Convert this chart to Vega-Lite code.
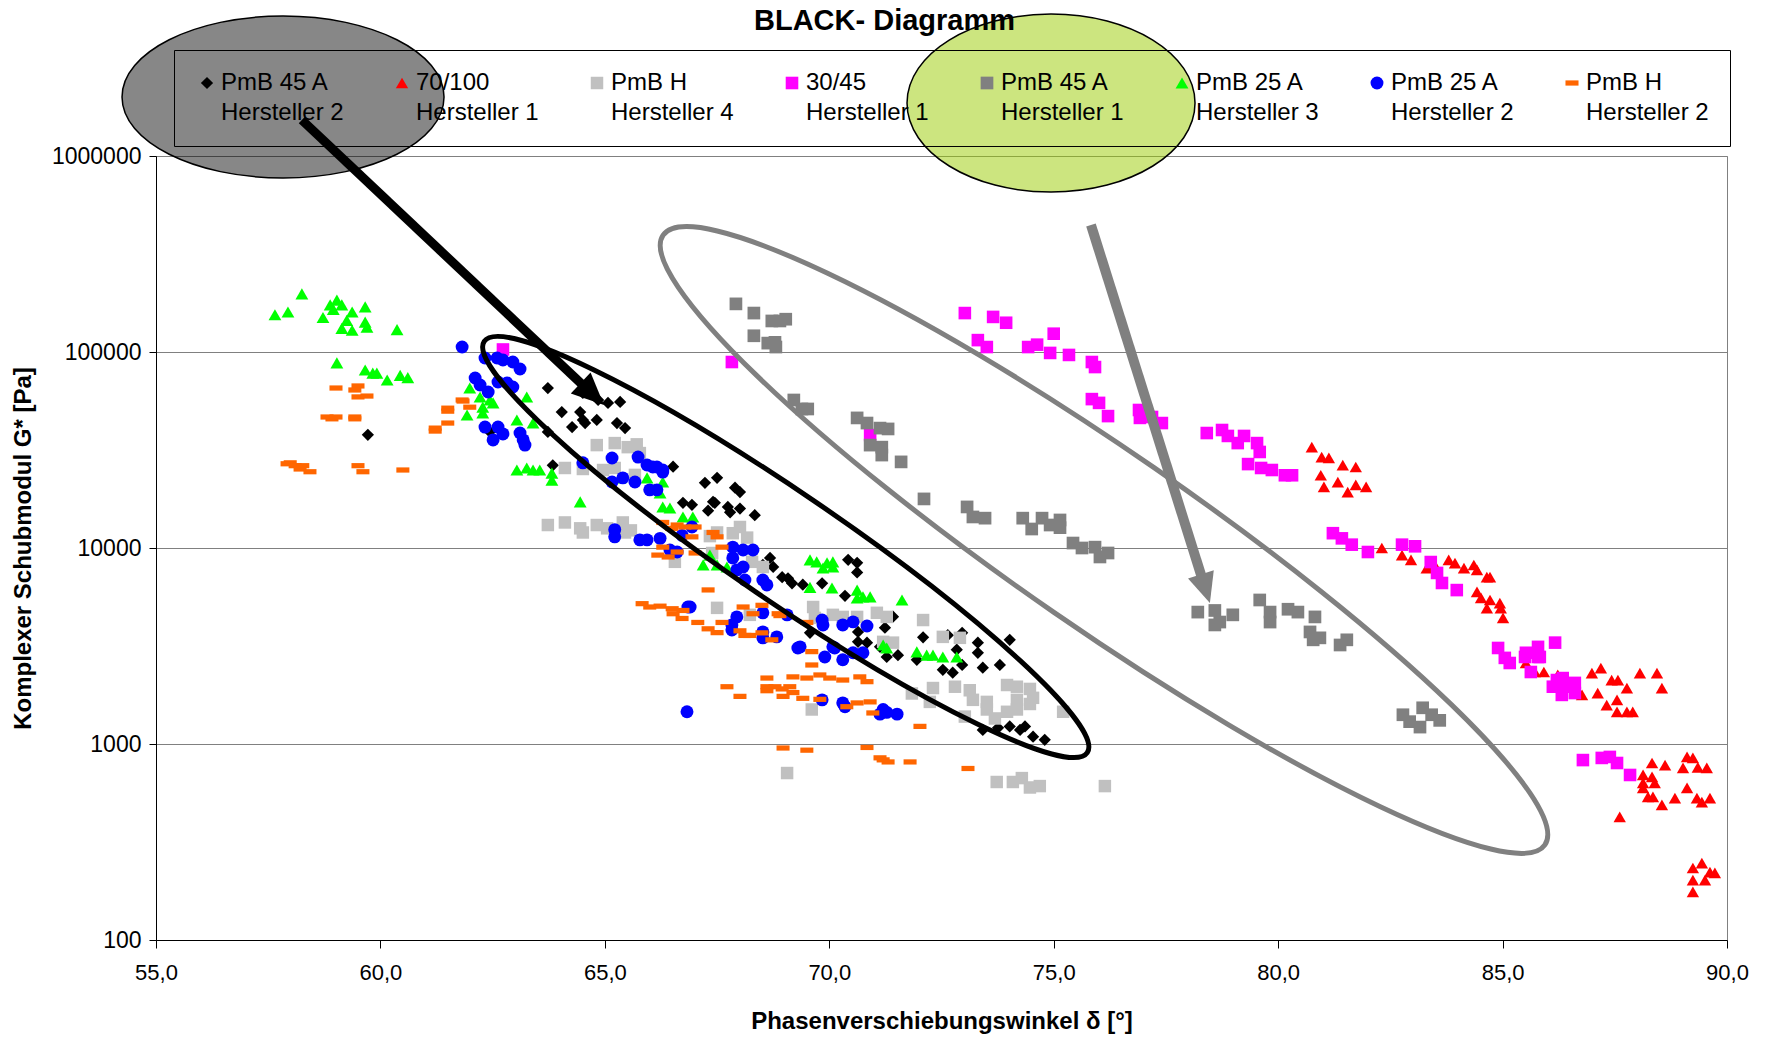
{
"$schema":"https://vega.github.io/schema/vega-lite/v6.json",
"width":1571,"height":784,
"autosize":"none",
"padding":{"left":156,"top":156,"right":41,"bottom":98},
"background":"white",
"title":{"text":"BLACK- Diagramm","anchor":"middle","frame":"group","fontSize":29,"fontWeight":"bold","color":"black","dx":-57,"offset":-25},
"config":{"font":"Liberation Sans","view":{"stroke":"#808080","strokeWidth":1},"style":{"guide-label":{"lineHeight":30}}},
"layer":[
{"data":{"values":[
{"s":"a","x":59.72,"y":37800},{"s":"a","x":62.44,"y":39100},{"s":"a","x":63.73,"y":65500},{"s":"a","x":64.04,"y":49400},{"s":"a","x":64.27,"y":41400},{"s":"a","x":64.45,"y":49400},{"s":"a","x":64.51,"y":45000},{"s":"a","x":64.56,"y":43400},{"s":"a","x":64.82,"y":45000},{"s":"a","x":64.51,"y":61800},{"s":"a","x":64.67,"y":62500},{"s":"a","x":64.85,"y":56900},{"s":"a","x":65.07,"y":55000},{"s":"a","x":65.34,"y":55600},{"s":"a","x":65.27,"y":43400},{"s":"a","x":65.45,"y":40900},{"s":"a","x":63.73,"y":39100},{"s":"a","x":63.84,"y":26400},{"s":"a","x":64.51,"y":26400},{"s":"a","x":66.52,"y":26000},{"s":"a","x":66.74,"y":17000},{"s":"a","x":66.94,"y":16600},{"s":"a","x":67.45,"y":17000},{"s":"a","x":67.23,"y":21500},{"s":"a","x":67.5,"y":22800},{"s":"a","x":67.41,"y":17200},{"s":"a","x":67.3,"y":15500},{"s":"a","x":67.74,"y":16200},{"s":"a","x":68.01,"y":15900},{"s":"a","x":67.9,"y":20300},{"s":"a","x":68.01,"y":19300},{"s":"a","x":67.79,"y":15200},{"s":"a","x":68.34,"y":14700},{"s":"a","x":68.68,"y":8900},{"s":"a","x":68.52,"y":8200},{"s":"a","x":68.75,"y":8000},{"s":"a","x":68.95,"y":7100},{"s":"a","x":69.08,"y":7000},{"s":"a","x":69.17,"y":6600},{"s":"a","x":69.41,"y":6500},{"s":"a","x":69.84,"y":6600},{"s":"a","x":70.35,"y":5700},{"s":"a","x":70.42,"y":8700},{"s":"a","x":70.62,"y":8400},{"s":"a","x":70.62,"y":7500},{"s":"a","x":69.57,"y":3690},{"s":"a","x":70.64,"y":3730},{"s":"a","x":70.64,"y":3320},{"s":"a","x":70.84,"y":3290},{"s":"a","x":71.24,"y":3920},{"s":"a","x":71.42,"y":4460},{"s":"a","x":71.13,"y":3130},{"s":"a","x":71.28,"y":2780},{"s":"a","x":71.53,"y":2840},{"s":"a","x":71.95,"y":2690},{"s":"a","x":72.09,"y":3500},{"s":"a","x":72.64,"y":3590},{"s":"a","x":72.96,"y":3690},{"s":"a","x":72.84,"y":3030},{"s":"a","x":72.96,"y":2530},{"s":"a","x":72.53,"y":2390},{"s":"a","x":72.75,"y":2310},{"s":"a","x":73.31,"y":3290},{"s":"a","x":73.31,"y":2920},{"s":"a","x":73.42,"y":2450},{"s":"a","x":73.8,"y":2530},{"s":"a","x":74.02,"y":3400},{"s":"a","x":73.42,"y":1180},{"s":"a","x":73.76,"y":1210},{"s":"a","x":74.02,"y":1230},{"s":"a","x":74.25,"y":1180},{"s":"a","x":74.36,"y":1230},{"s":"a","x":74.54,"y":1090},{"s":"a","x":74.8,"y":1050},
{"s":"b","x":80.75,"y":32700},{"s":"b","x":80.97,"y":29100},{"s":"b","x":81.13,"y":28800},{"s":"b","x":81.44,"y":26500},{"s":"b","x":81.73,"y":25900},{"s":"b","x":80.95,"y":23500},{"s":"b","x":81.02,"y":20500},{"s":"b","x":81.33,"y":21700},{"s":"b","x":81.55,"y":19300},{"s":"b","x":81.73,"y":21000},{"s":"b","x":81.96,"y":20500},{"s":"b","x":82.31,"y":10000},{"s":"b","x":82.76,"y":9200},{"s":"b","x":82.96,"y":8700},{"s":"b","x":83.31,"y":7900},{"s":"b","x":83.49,"y":8190},{"s":"b","x":83.8,"y":8690},{"s":"b","x":83.94,"y":8380},{"s":"b","x":84.14,"y":7900},{"s":"b","x":84.36,"y":8190},{"s":"b","x":84.43,"y":7730},{"s":"b","x":84.65,"y":7110},{"s":"b","x":84.72,"y":7110},{"s":"b","x":84.43,"y":5970},{"s":"b","x":84.52,"y":5560},{"s":"b","x":84.72,"y":5430},{"s":"b","x":84.65,"y":4940},{"s":"b","x":84.94,"y":5230},{"s":"b","x":84.96,"y":4940},{"s":"b","x":85.01,"y":4400},{"s":"b","x":85.52,"y":2590},{"s":"b","x":85.72,"y":2330},{"s":"b","x":85.92,"y":2330},{"s":"b","x":86.23,"y":2250},{"s":"b","x":86.99,"y":2300},{"s":"b","x":87.19,"y":2440},{"s":"b","x":87.43,"y":2120},{"s":"b","x":87.57,"y":2120},{"s":"b","x":87.77,"y":1930},{"s":"b","x":88.06,"y":2300},{"s":"b","x":88.44,"y":2300},{"s":"b","x":88.55,"y":1930},{"s":"b","x":87.12,"y":1820},{"s":"b","x":86.77,"y":1780},{"s":"b","x":87.32,"y":1580},{"s":"b","x":87.55,"y":1680},{"s":"b","x":87.55,"y":1460},{"s":"b","x":87.77,"y":1460},{"s":"b","x":87.9,"y":1460},{"s":"b","x":88.33,"y":800},{"s":"b","x":88.62,"y":780},{"s":"b","x":89.11,"y":860},{"s":"b","x":89.24,"y":850},{"s":"b","x":89.02,"y":755},{"s":"b","x":89.35,"y":760},{"s":"b","x":89.55,"y":755},{"s":"b","x":88.13,"y":695},{"s":"b","x":88.33,"y":680},{"s":"b","x":88.13,"y":633},{"s":"b","x":88.39,"y":633},{"s":"b","x":88.13,"y":597},{"s":"b","x":88.24,"y":537},{"s":"b","x":88.35,"y":537},{"s":"b","x":88.55,"y":489},{"s":"b","x":88.84,"y":530},{"s":"b","x":89.11,"y":597},{"s":"b","x":89.33,"y":530},{"s":"b","x":89.44,"y":505},{"s":"b","x":89.62,"y":530},{"s":"b","x":87.61,"y":425},{"s":"b","x":89.24,"y":233},{"s":"b","x":89.44,"y":247},{"s":"b","x":89.62,"y":222},{"s":"b","x":89.73,"y":220},{"s":"b","x":89.24,"y":202},{"s":"b","x":89.51,"y":202},{"s":"b","x":89.24,"y":176},
{"s":"c","x":64.82,"y":33500},{"s":"c","x":65.22,"y":34300},{"s":"c","x":65.51,"y":32700},{"s":"c","x":65.71,"y":33800},{"s":"c","x":65.78,"y":30500},{"s":"c","x":64.11,"y":25600},{"s":"c","x":64.51,"y":25300},{"s":"c","x":64.96,"y":25000},{"s":"c","x":65.22,"y":25600},{"s":"c","x":65.67,"y":23600},{"s":"c","x":63.73,"y":13100},{"s":"c","x":64.11,"y":13500},{"s":"c","x":64.45,"y":12600},{"s":"c","x":64.51,"y":12000},{"s":"c","x":64.82,"y":13100},{"s":"c","x":65.4,"y":13500},{"s":"c","x":65.58,"y":12300},{"s":"c","x":65.45,"y":12000},{"s":"c","x":65.05,"y":12600},{"s":"c","x":66.56,"y":8500},{"s":"c","x":67.34,"y":11500},{"s":"c","x":67.5,"y":12000},{"s":"c","x":67.85,"y":11900},{"s":"c","x":68.01,"y":12800},{"s":"c","x":68.17,"y":11300},{"s":"c","x":68.28,"y":8500},{"s":"c","x":68.52,"y":8000},{"s":"c","x":67.39,"y":9430},{"s":"c","x":67.5,"y":4950},{"s":"c","x":68.23,"y":4560},{"s":"c","x":69.64,"y":5000},{"s":"c","x":69.68,"y":4400},{"s":"c","x":70.08,"y":4560},{"s":"c","x":70.3,"y":4450},{"s":"c","x":70.62,"y":4450},{"s":"c","x":71.06,"y":4670},{"s":"c","x":71.28,"y":4450},{"s":"c","x":72.09,"y":4290},{"s":"c","x":71.2,"y":3320},{"s":"c","x":71.42,"y":3290},{"s":"c","x":72.53,"y":3520},{"s":"c","x":72.91,"y":3480},{"s":"c","x":72.31,"y":1930},{"s":"c","x":71.84,"y":1810},{"s":"c","x":72.24,"y":1640},{"s":"c","x":72.8,"y":1960},{"s":"c","x":73.13,"y":1880},{"s":"c","x":73.2,"y":1680},{"s":"c","x":73.51,"y":1640},{"s":"c","x":73.51,"y":1500},{"s":"c","x":73.02,"y":1380},{"s":"c","x":73.69,"y":1350},{"s":"c","x":73.96,"y":2000},{"s":"c","x":74.18,"y":1960},{"s":"c","x":74.47,"y":1910},{"s":"c","x":74.54,"y":1720},{"s":"c","x":74.47,"y":1600},{"s":"c","x":74.18,"y":1680},{"s":"c","x":74.18,"y":1500},{"s":"c","x":73.96,"y":1460},{"s":"c","x":75.21,"y":1460},{"s":"c","x":69.06,"y":711},{"s":"c","x":69.61,"y":1500},{"s":"c","x":73.73,"y":640},{"s":"c","x":74.09,"y":640},{"s":"c","x":74.29,"y":670},{"s":"c","x":74.47,"y":600},{"s":"c","x":74.69,"y":610},{"s":"c","x":76.14,"y":610},
{"s":"d","x":62.73,"y":103000},{"s":"d","x":67.83,"y":88900},{"s":"d","x":70.91,"y":37700},{"s":"d","x":73.02,"y":158000},{"s":"d","x":73.65,"y":151000},{"s":"d","x":73.94,"y":141000},{"s":"d","x":73.31,"y":115000},{"s":"d","x":73.51,"y":106000},{"s":"d","x":74.43,"y":106000},{"s":"d","x":74.63,"y":109000},{"s":"d","x":75.0,"y":124000},{"s":"d","x":74.92,"y":98900},{"s":"d","x":75.34,"y":96600},{"s":"d","x":75.85,"y":88900},{"s":"d","x":75.92,"y":83800},{"s":"d","x":75.85,"y":57500},{"s":"d","x":76.01,"y":55000},{"s":"d","x":76.21,"y":47100},{"s":"d","x":76.9,"y":50600},{"s":"d","x":76.92,"y":46100},{"s":"d","x":77.19,"y":46600},{"s":"d","x":77.41,"y":43400},{"s":"d","x":78.41,"y":38600},{"s":"d","x":78.75,"y":40000},{"s":"d","x":78.88,"y":37300},{"s":"d","x":79.1,"y":34300},{"s":"d","x":79.24,"y":37300},{"s":"d","x":79.53,"y":34300},{"s":"d","x":79.59,"y":30900},{"s":"d","x":79.33,"y":26800},{"s":"d","x":79.62,"y":25600},{"s":"d","x":79.86,"y":25000},{"s":"d","x":80.15,"y":23500},{"s":"d","x":80.31,"y":23500},{"s":"d","x":81.22,"y":11900},{"s":"d","x":81.42,"y":11200},{"s":"d","x":81.64,"y":10400},{"s":"d","x":82.0,"y":9540},{"s":"d","x":82.76,"y":10400},{"s":"d","x":83.05,"y":10200},{"s":"d","x":83.4,"y":8480},{"s":"d","x":83.54,"y":7460},{"s":"d","x":83.65,"y":6630},{"s":"d","x":83.98,"y":6100},{"s":"d","x":84.9,"y":3090},{"s":"d","x":85.05,"y":2750},{"s":"d","x":85.52,"y":2920},{"s":"d","x":85.79,"y":3130},{"s":"d","x":86.17,"y":3290},{"s":"d","x":85.79,"y":2780},{"s":"d","x":85.63,"y":2330},{"s":"d","x":86.21,"y":2120},{"s":"d","x":86.37,"y":1960},{"s":"d","x":86.61,"y":2050},{"s":"d","x":86.61,"y":1820},{"s":"d","x":85.16,"y":2590},{"s":"d","x":85.5,"y":2780},{"s":"d","x":85.83,"y":2780},{"s":"d","x":86.12,"y":1960},{"s":"d","x":86.34,"y":2170},{"s":"d","x":86.57,"y":1960},{"s":"d","x":86.32,"y":1780},{"s":"d","x":86.79,"y":828},{"s":"d","x":87.21,"y":849},{"s":"d","x":87.39,"y":859},{"s":"d","x":87.55,"y":800},{"s":"d","x":87.84,"y":695},
{"s":"e","x":67.92,"y":176000},{"s":"e","x":68.32,"y":158000},{"s":"e","x":68.72,"y":144000},{"s":"e","x":68.9,"y":144000},{"s":"e","x":69.03,"y":147000},{"s":"e","x":68.32,"y":121000},{"s":"e","x":68.63,"y":111000},{"s":"e","x":68.79,"y":112000},{"s":"e","x":68.81,"y":106000},{"s":"e","x":69.21,"y":56900},{"s":"e","x":69.39,"y":51200},{"s":"e","x":69.52,"y":51200},{"s":"e","x":70.62,"y":46100},{"s":"e","x":70.84,"y":43400},{"s":"e","x":71.13,"y":40900},{"s":"e","x":71.31,"y":40500},{"s":"e","x":70.91,"y":33500},{"s":"e","x":71.17,"y":32700},{"s":"e","x":71.17,"y":29800},{"s":"e","x":71.6,"y":27500},{"s":"e","x":72.11,"y":17800},{"s":"e","x":73.07,"y":16200},{"s":"e","x":73.2,"y":14400},{"s":"e","x":73.47,"y":14200},{"s":"e","x":74.31,"y":14200},{"s":"e","x":74.51,"y":12500},{"s":"e","x":74.74,"y":14200},{"s":"e","x":74.92,"y":13100},{"s":"e","x":75.14,"y":12700},{"s":"e","x":75.14,"y":13900},{"s":"e","x":75.43,"y":10600},{"s":"e","x":75.63,"y":10000},{"s":"e","x":75.92,"y":10100},{"s":"e","x":76.03,"y":9000},{"s":"e","x":76.21,"y":9430},{"s":"e","x":78.21,"y":4710},{"s":"e","x":78.59,"y":4800},{"s":"e","x":78.7,"y":4190},{"s":"e","x":78.99,"y":4560},{"s":"e","x":78.59,"y":4050},{"s":"e","x":79.59,"y":5430},{"s":"e","x":79.82,"y":4710},{"s":"e","x":79.82,"y":4190},{"s":"e","x":80.22,"y":4870},{"s":"e","x":80.44,"y":4710},{"s":"e","x":80.82,"y":4450},{"s":"e","x":80.71,"y":3730},{"s":"e","x":80.78,"y":3400},{"s":"e","x":80.93,"y":3480},{"s":"e","x":81.38,"y":3200},{"s":"e","x":81.53,"y":3400},{"s":"e","x":82.78,"y":1410},{"s":"e","x":82.93,"y":1300},{"s":"e","x":83.16,"y":1220},{"s":"e","x":83.22,"y":1530},{"s":"e","x":83.42,"y":1410},{"s":"e","x":83.6,"y":1320},
{"s":"f","x":57.65,"y":155000},{"s":"f","x":57.94,"y":160000},{"s":"f","x":58.25,"y":198000},{"s":"f","x":58.72,"y":150000},{"s":"f","x":58.88,"y":174000},{"s":"f","x":59.03,"y":184000},{"s":"f","x":59.14,"y":174000},{"s":"f","x":59.37,"y":160000},{"s":"f","x":59.66,"y":170000},{"s":"f","x":59.66,"y":142000},{"s":"f","x":59.14,"y":132000},{"s":"f","x":59.37,"y":129000},{"s":"f","x":59.7,"y":134000},{"s":"f","x":60.37,"y":130000},{"s":"f","x":58.95,"y":165000},{"s":"f","x":59.25,"y":145000},{"s":"f","x":59.03,"y":88000},{"s":"f","x":59.66,"y":81000},{"s":"f","x":59.83,"y":78000},{"s":"f","x":59.92,"y":78000},{"s":"f","x":60.15,"y":72000},{"s":"f","x":60.44,"y":76000},{"s":"f","x":60.61,"y":74000},{"s":"f","x":61.99,"y":65500},{"s":"f","x":62.22,"y":58900},{"s":"f","x":62.28,"y":52300},{"s":"f","x":62.44,"y":56900},{"s":"f","x":61.93,"y":47700},{"s":"f","x":62.28,"y":48900},{"s":"f","x":62.51,"y":55000},{"s":"f","x":63.04,"y":45000},{"s":"f","x":63.26,"y":58900},{"s":"f","x":63.4,"y":43400},{"s":"f","x":63.04,"y":25000},{"s":"f","x":63.26,"y":25600},{"s":"f","x":63.4,"y":25000},{"s":"f","x":63.55,"y":25000},{"s":"f","x":63.82,"y":24100},{"s":"f","x":63.82,"y":22200},{"s":"f","x":64.45,"y":17200},{"s":"f","x":65.34,"y":22800},{"s":"f","x":65.94,"y":22800},{"s":"f","x":66.29,"y":21700},{"s":"f","x":66.23,"y":19100},{"s":"f","x":66.29,"y":16200},{"s":"f","x":66.45,"y":16000},{"s":"f","x":66.74,"y":14400},{"s":"f","x":66.96,"y":14400},{"s":"f","x":66.1,"y":20000},{"s":"f","x":67.34,"y":9200},{"s":"f","x":67.5,"y":8200},{"s":"f","x":67.19,"y":8200},{"s":"f","x":67.72,"y":8000},{"s":"f","x":69.57,"y":8700},{"s":"f","x":69.72,"y":8500},{"s":"f","x":69.95,"y":8400},{"s":"f","x":70.08,"y":8500},{"s":"f","x":69.86,"y":7900},{"s":"f","x":70.08,"y":8000},{"s":"f","x":69.57,"y":6300},{"s":"f","x":70.06,"y":6250},{"s":"f","x":70.62,"y":6100},{"s":"f","x":70.75,"y":5630},{"s":"f","x":70.91,"y":5630},{"s":"f","x":70.62,"y":5560},{"s":"f","x":71.62,"y":5430},{"s":"f","x":71.28,"y":3090},{"s":"f","x":71.2,"y":3200},{"s":"f","x":71.95,"y":2950},{"s":"f","x":72.17,"y":2840},{"s":"f","x":72.31,"y":2840},{"s":"f","x":72.53,"y":2780},{"s":"f","x":72.84,"y":2780},
{"s":"g","x":61.82,"y":106000},{"s":"g","x":62.33,"y":93200},{"s":"g","x":62.6,"y":93200},{"s":"g","x":62.73,"y":91000},{"s":"g","x":62.95,"y":88900},{"s":"g","x":63.11,"y":81900},{"s":"g","x":62.11,"y":73700},{"s":"g","x":62.22,"y":67900},{"s":"g","x":62.4,"y":62500},{"s":"g","x":62.62,"y":70300},{"s":"g","x":62.82,"y":69500},{"s":"g","x":62.95,"y":66300},{"s":"g","x":62.33,"y":41400},{"s":"g","x":62.62,"y":41400},{"s":"g","x":62.73,"y":38200},{"s":"g","x":62.51,"y":35600},{"s":"g","x":63.11,"y":38600},{"s":"g","x":63.18,"y":35600},{"s":"g","x":63.22,"y":33500},{"s":"g","x":64.51,"y":27200},{"s":"g","x":65.16,"y":28800},{"s":"g","x":65.74,"y":29100},{"s":"g","x":65.94,"y":26500},{"s":"g","x":66.07,"y":25900},{"s":"g","x":66.16,"y":25900},{"s":"g","x":66.29,"y":25000},{"s":"g","x":66.29,"y":24400},{"s":"g","x":65.16,"y":21700},{"s":"g","x":65.4,"y":22800},{"s":"g","x":65.67,"y":21700},{"s":"g","x":66.0,"y":19800},{"s":"g","x":66.16,"y":19800},{"s":"g","x":65.22,"y":12400},{"s":"g","x":65.22,"y":11400},{"s":"g","x":65.78,"y":11000},{"s":"g","x":65.94,"y":11000},{"s":"g","x":66.23,"y":11200},{"s":"g","x":66.72,"y":11600},{"s":"g","x":66.94,"y":12800},{"s":"g","x":66.45,"y":9770},{"s":"g","x":66.61,"y":9540},{"s":"g","x":67.85,"y":10100},{"s":"g","x":68.08,"y":9770},{"s":"g","x":68.3,"y":9770},{"s":"g","x":67.85,"y":8900},{"s":"g","x":67.94,"y":7730},{"s":"g","x":68.08,"y":8000},{"s":"g","x":68.12,"y":6870},{"s":"g","x":68.52,"y":6870},{"s":"g","x":68.61,"y":6480},{"s":"g","x":66.85,"y":5000},{"s":"g","x":66.9,"y":5000},{"s":"g","x":67.94,"y":4450},{"s":"g","x":67.83,"y":4050},{"s":"g","x":67.83,"y":3820},{"s":"g","x":68.52,"y":4670},{"s":"g","x":69.06,"y":4560},{"s":"g","x":68.52,"y":3730},{"s":"g","x":68.52,"y":3480},{"s":"g","x":68.83,"y":3520},{"s":"g","x":69.35,"y":3130},{"s":"g","x":69.84,"y":4290},{"s":"g","x":69.86,"y":4050},{"s":"g","x":70.3,"y":4050},{"s":"g","x":70.53,"y":4200},{"s":"g","x":70.84,"y":4000},{"s":"g","x":70.08,"y":3130},{"s":"g","x":69.3,"y":3090},{"s":"g","x":69.9,"y":2780},{"s":"g","x":70.12,"y":3090},{"s":"g","x":70.3,"y":2690},{"s":"g","x":70.53,"y":2920},{"s":"g","x":70.75,"y":2920},{"s":"g","x":66.83,"y":1460},{"s":"g","x":69.84,"y":1680},{"s":"g","x":70.3,"y":1620},{"s":"g","x":70.35,"y":1550},{"s":"g","x":71.2,"y":1500},{"s":"g","x":71.28,"y":1450},{"s":"g","x":71.13,"y":1420},{"s":"g","x":71.51,"y":1420},
{"s":"h","x":59.01,"y":65500},{"s":"h","x":59.5,"y":67100},{"s":"h","x":59.43,"y":64000},{"s":"h","x":59.5,"y":59000},{"s":"h","x":59.7,"y":59600},{"s":"h","x":58.81,"y":46600},{"s":"h","x":58.92,"y":45600},{"s":"h","x":59.01,"y":46600},{"s":"h","x":59.43,"y":46600},{"s":"h","x":59.43,"y":45600},{"s":"h","x":57.99,"y":27200},{"s":"h","x":57.92,"y":26900},{"s":"h","x":58.1,"y":26300},{"s":"h","x":58.27,"y":26300},{"s":"h","x":58.21,"y":25300},{"s":"h","x":58.43,"y":24500},{"s":"h","x":59.5,"y":26300},{"s":"h","x":59.61,"y":24500},{"s":"h","x":60.5,"y":25000},{"s":"h","x":61.5,"y":51700},{"s":"h","x":61.5,"y":49900},{"s":"h","x":61.84,"y":56200},{"s":"h","x":61.99,"y":52300},{"s":"h","x":61.82,"y":56900},{"s":"h","x":61.22,"y":40900},{"s":"h","x":61.22,"y":39500},{"s":"h","x":61.5,"y":43400},{"s":"h","x":66.29,"y":13500},{"s":"h","x":66.61,"y":13100},{"s":"h","x":66.49,"y":12600},{"s":"h","x":66.78,"y":12800},{"s":"h","x":67.01,"y":12800},{"s":"h","x":66.94,"y":11400},{"s":"h","x":66.29,"y":10100},{"s":"h","x":66.61,"y":9540},{"s":"h","x":67.01,"y":9430},{"s":"h","x":66.18,"y":9200},{"s":"h","x":66.41,"y":9000},{"s":"h","x":67.41,"y":12000},{"s":"h","x":67.5,"y":11400},{"s":"h","x":67.61,"y":10100},{"s":"h","x":67.3,"y":6110},{"s":"h","x":65.83,"y":5200},{"s":"h","x":66.0,"y":5000},{"s":"h","x":66.23,"y":5050},{"s":"h","x":66.5,"y":4900},{"s":"h","x":66.74,"y":4800},{"s":"h","x":66.52,"y":4620},{"s":"h","x":66.72,"y":4370},{"s":"h","x":67.07,"y":4170},{"s":"h","x":67.3,"y":3870},{"s":"h","x":67.5,"y":3700},{"s":"h","x":67.61,"y":4170},{"s":"h","x":68.08,"y":5000},{"s":"h","x":68.3,"y":4620},{"s":"h","x":68.5,"y":5100},{"s":"h","x":68.86,"y":4620},{"s":"h","x":68.01,"y":3780},{"s":"h","x":68.12,"y":3580},{"s":"h","x":68.23,"y":3580},{"s":"h","x":68.5,"y":3690},{"s":"h","x":68.72,"y":3400},{"s":"h","x":69.5,"y":4170},{"s":"h","x":68.9,"y":4520},{"s":"h","x":69.61,"y":2960},{"s":"h","x":69.61,"y":2530},{"s":"h","x":69.5,"y":2170},{"s":"h","x":69.19,"y":2200},{"s":"h","x":69.79,"y":2250},{"s":"h","x":70.01,"y":2170},{"s":"h","x":70.3,"y":2120},{"s":"h","x":70.68,"y":2200},{"s":"h","x":70.84,"y":2080},{"s":"h","x":68.61,"y":2170},{"s":"h","x":67.72,"y":1960},{"s":"h","x":68.01,"y":1750},{"s":"h","x":68.61,"y":1960},{"s":"h","x":68.61,"y":1870},{"s":"h","x":68.79,"y":1960},{"s":"h","x":68.95,"y":1910},{"s":"h","x":69.12,"y":1960},{"s":"h","x":69.19,"y":1830},{"s":"h","x":68.97,"y":1750},{"s":"h","x":69.41,"y":1710},{"s":"h","x":69.79,"y":1690},{"s":"h","x":70.39,"y":1550},{"s":"h","x":70.62,"y":1620},{"s":"h","x":70.91,"y":1640},{"s":"h","x":70.97,"y":1440},{"s":"h","x":72.02,"y":1230},{"s":"h","x":68.97,"y":954},{"s":"h","x":69.5,"y":930},{"s":"h","x":70.84,"y":960},{"s":"h","x":71.13,"y":850},{"s":"h","x":71.2,"y":830},{"s":"h","x":71.31,"y":810},{"s":"h","x":71.8,"y":810},{"s":"h","x":73.09,"y":750}
]},
"mark":{"type":"point","filled":true,"opacity":1,"strokeWidth":0},
"encoding":{
"x":{"field":"x","type":"quantitative","scale":{"domain":[55,90],"nice":false,"zero":false},
"axis":{"title":"Phasenverschiebungswinkel δ [°]","values":[55,60,65,70,75,80,85,90],"labelExpr":"replace(format(datum.value, '.1f'), '.', ',')","grid":false,"domainColor":"black","tickColor":"black","tickSize":8,"labelFontSize":22,"labelColor":"black","labelPadding":14,"labelFlush":false,"titleFontSize":24,"titleFontWeight":"bold","titleColor":"black","titlePadding":26}},
"y":{"field":"y","type":"quantitative","scale":{"type":"log","domain":[100,1000000],"nice":false},
"axis":{"title":"Komplexer Schubmodul G* [Pa]","values":[100,1000,10000,100000,1000000],"format":"d","grid":true,"gridColor":"#808080","gridWidth":1,"domainColor":"black","tickColor":"black","tickSize":7,"labelFontSize":23,"labelColor":"black","labelPadding":8,"labelFlush":false,"titleFontSize":24,"titleFontWeight":"bold","titleColor":"black","titlePadding":16}},
"color":{"field":"s","type":"nominal","scale":{"domain":["a","b","c","d","e","f","g","h"],"range":["#000000","#FF0000","#C0C0C0","#FF00FF","#808080","#00FF00","#0000FF","#FF6600"]},
"legend":{"title":null,"orient":"none","legendX":18,"legendY":-106,"direction":"horizontal","columns":8,"gridAlign":"all","columnPadding":46,"padding":21,"strokeColor":"black","symbolSize":100,"symbolStrokeWidth":0,"labelFontSize":24,"labelColor":"black","labelOffset":2,"labelBaseline":"middle","labelLimit":300,
"labelExpr":"datum.label == 'a' ? ['PmB 45 A','Hersteller 2'] : datum.label == 'b' ? ['70/100','Hersteller 1'] : datum.label == 'c' ? ['PmB H','Hersteller 4'] : datum.label == 'd' ? ['30/45','Hersteller 1'] : datum.label == 'e' ? ['PmB 45 A','Hersteller 1'] : datum.label == 'f' ? ['PmB 25 A','Hersteller 3'] : datum.label == 'g' ? ['PmB 25 A','Hersteller 2'] : ['PmB H','Hersteller 2']"}},
"shape":{"field":"s","type":"nominal","scale":{"domain":["a","b","c","d","e","f","g","h"],"range":["diamond","triangle-up","square","square","square","triangle-up","circle","M-1,-0.4L1,-0.4L1,0.4L-1,0.4Z"]}},
"size":{"field":"s","type":"nominal","scale":{"domain":["a","b","c","d","e","f","g","h"],"range":[150,170,121,121,121,170,121,144]},"legend":null}
}},
{"data":{"values":[{"x":69.03,"y":10120}]},
"mark":{"type":"point","shape":"M-1,0C-1,-0.0817,-0.5523,-0.148,0,-0.148C0.5523,-0.148,1,-0.0817,1,0C1,0.0817,0.5523,0.148,0,0.148C-0.5523,0.148,-1,0.0817,-1,0Z","size":532900,"angle":34.3,"filled":false,"color":"#000000","strokeWidth":5,"opacity":1},
"encoding":{"x":{"field":"x","type":"quantitative"},"y":{"field":"y","type":"quantitative"}}},
{"data":{"values":[{"x":76.12,"y":10985}]},
"mark":{"type":"point","shape":"M-1,0C-1,-0.0907,-0.5523,-0.1642,0,-0.1642C0.5523,-0.1642,1,-0.0907,1,0C1,0.0907,0.5523,0.1642,0,0.1642C-0.5523,0.1642,-1,0.0907,-1,0Z","size":1149184,"angle":34.66,"filled":false,"color":"#808080","strokeWidth":5,"opacity":1},
"encoding":{"x":{"field":"x","type":"quantitative"},"y":{"field":"y","type":"quantitative"}}},
{"data":{"values":[{"x":58.25,"y":1527000,"x2":64.575,"y2":65600}]},
"mark":{"type":"rule","color":"#000000","strokeWidth":9,"strokeCap":"butt"},
"encoding":{"x":{"field":"x","type":"quantitative"},"y":{"field":"y","type":"quantitative"},"x2":{"field":"x2"},"y2":{"field":"y2"}}},
{"data":{"values":[{"x":64.98,"y":53650}]},
"mark":{"type":"point","shape":"M0,0L-2,-0.9L-2,0.9Z","size":1024,"angle":43.34,"filled":true,"color":"#000000","opacity":1,"strokeWidth":0},
"encoding":{"x":{"field":"x","type":"quantitative"},"y":{"field":"y","type":"quantitative"}}},
{"data":{"values":[{"x":75.83,"y":444600,"x2":78.313,"y2":6930}]},
"mark":{"type":"rule","color":"#808080","strokeWidth":10,"strokeCap":"butt"},
"encoding":{"x":{"field":"x","type":"quantitative"},"y":{"field":"y","type":"quantitative"},"x2":{"field":"x2"},"y2":{"field":"y2"}}},
{"data":{"values":[{"x":78.48,"y":5240}]},
"mark":{"type":"point","shape":"M0,0L-2,-0.9L-2,0.9Z","size":900,"angle":72.53,"filled":true,"color":"#808080","opacity":1,"strokeWidth":0},
"encoding":{"x":{"field":"x","type":"quantitative"},"y":{"field":"y","type":"quantitative"}}},
{"data":{"values":[{"x":57.83,"y":2000000}]},
"mark":{"type":"point","shape":"M-1,0C-1,-0.2778,-0.5523,-0.503,0,-0.503C0.5523,-0.503,1,-0.2778,1,0C1,0.2778,0.5523,0.503,0,0.503C-0.5523,0.503,-1,0.2778,-1,0Z","size":103684,"filled":true,"fill":"#000000","fillOpacity":0.47,"stroke":"#000000","strokeOpacity":1,"strokeWidth":1.5,"opacity":1},
"encoding":{"x":{"field":"x","type":"quantitative"},"y":{"field":"y","type":"quantitative"}}},
{"data":{"values":[{"x":74.94,"y":1862000}]},
"mark":{"type":"point","shape":"M-1,0C-1,-0.3413,-0.5523,-0.618,0,-0.618C0.5523,-0.618,1,-0.3413,1,0C1,0.3413,0.5523,0.618,0,0.618C-0.5523,0.618,-1,0.3413,-1,0Z","size":82944,"filled":true,"fill":"#99CC00","fillOpacity":0.5,"stroke":"#000000","strokeOpacity":1,"strokeWidth":1.5,"opacity":1},
"encoding":{"x":{"field":"x","type":"quantitative"},"y":{"field":"y","type":"quantitative"}}}
]
}
